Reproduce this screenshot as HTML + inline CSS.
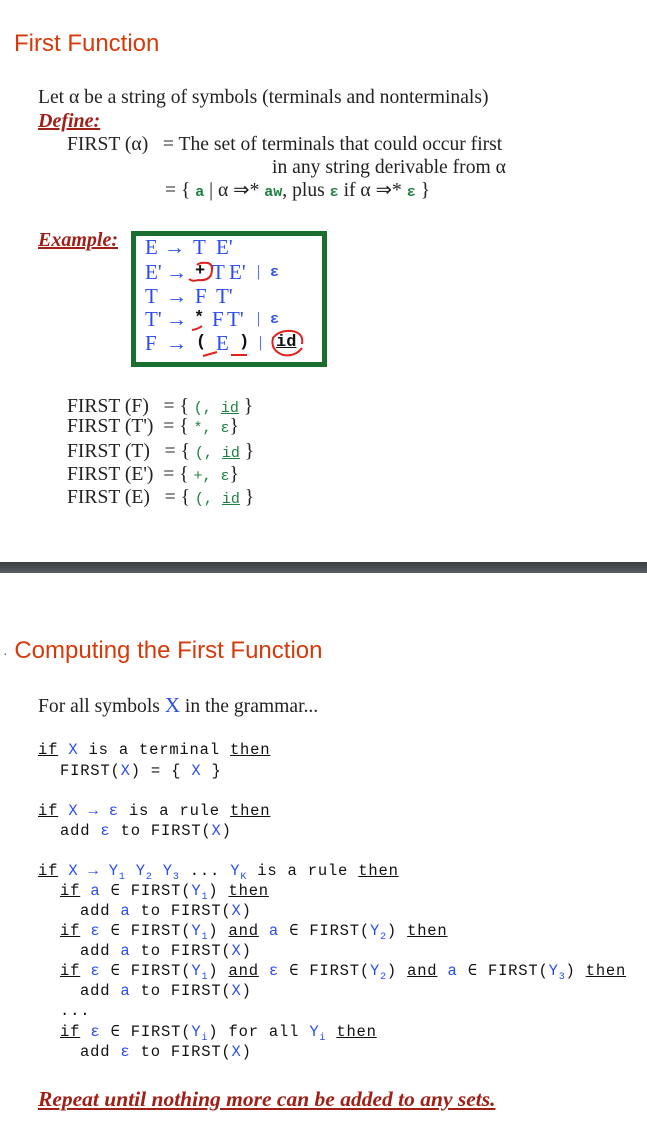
<!DOCTYPE html>
<html><head><meta charset="utf-8"><style>
body{margin:0;width:647px;height:1148px;position:relative;background:#fff;overflow:hidden}
.a{position:absolute;white-space:nowrap}
.h{font-family:"Liberation Sans",sans-serif;font-size:24px;color:#d63a0a;line-height:28px}
.s{font-family:"Liberation Serif",serif;font-size:19.6px;color:#222;line-height:20px}
.m{font-family:"Liberation Mono",monospace;font-size:15.5px;color:#111;line-height:18px;letter-spacing:0.8px}
.b{color:#2b4cf0}.g{color:#1d8040}
.u{text-decoration:underline}
sub{font-size:10px;vertical-align:-4px;line-height:0}
.ex{font-family:"Liberation Serif",serif;font-weight:bold;font-style:italic;text-decoration:underline;color:#a02018;font-size:20px;line-height:22px}
.gr{font-family:"Liberation Serif",serif;font-size:21px;color:#2b4cf0;line-height:22px}
.ar{font-weight:bold}
.gm{font-family:"Liberation Mono",monospace;font-size:15px;font-weight:bold}
.k{font-family:"Liberation Mono",monospace;font-size:17px;font-weight:bold;color:#111;line-height:22px}
</style></head><body>
<div class="a h" style="left:14px;top:30px">First Function</div>
<div class="a s" style="left:38px;top:88px">Let α be a string of symbols (terminals and nonterminals)</div>
<div class="a ex" style="left:38px;top:110px">Define:</div>
<div class="a s" style="left:67px;top:135px">FIRST (α)&nbsp;&nbsp; = The set of terminals that could occur first</div>
<div class="a s" style="left:272px;top:158px">in any string derivable from α</div>
<div class="a s" style="left:165px;top:181px">= { <span class="g gm">a</span> | α ⇒* <span class="g gm">aw</span>, plus <span class="g gm">ε</span> if α ⇒* <span class="g gm">ε</span> }</div>
<div class="a ex" style="left:38px;top:229px">Example:</div>
<div class="a" style="left:131px;top:231px;width:186px;height:126px;border:5px solid #1a6e30"></div>
<div class="a gr" style="left:145px;top:236px">E</div><div class="a gr ar" style="left:164px;top:236px">→</div><div class="a gr" style="left:193px;top:236px">T</div><div class="a gr" style="left:216px;top:236px">E'</div>
<div class="a gr" style="left:145px;top:261px">E'</div><div class="a gr ar" style="left:166px;top:261px">→</div><div class="a k" style="left:195px;top:261px">+</div><div class="a gr" style="left:212px;top:261px">T</div><div class="a gr" style="left:229px;top:261px">E'</div><div class="a gr" style="left:257px;top:261px;font-size:16px">|</div><div class="a gm" style="left:270px;top:264px;color:#2b4cf0">ε</div>
<div class="a gr" style="left:145px;top:285px">T</div><div class="a gr ar" style="left:166px;top:285px">→</div><div class="a gr" style="left:195px;top:285px">F</div><div class="a gr" style="left:216px;top:285px">T'</div>
<div class="a gr" style="left:145px;top:308px">T'</div><div class="a gr ar" style="left:166px;top:308px">→</div><div class="a k" style="left:194px;top:308px">*</div><div class="a gr" style="left:212px;top:308px">F</div><div class="a gr" style="left:227px;top:308px">T'</div><div class="a gr" style="left:257px;top:308px;font-size:16px">|</div><div class="a gm" style="left:270px;top:311px;color:#2b4cf0">ε</div>
<div class="a gr" style="left:145px;top:332px">F</div><div class="a gr ar" style="left:166px;top:332px">→</div><div class="a k" style="left:196px;top:332px">(</div><div class="a gr" style="left:216px;top:332px">E</div><div class="a k" style="left:239px;top:332px">)</div><div class="a gr" style="left:259px;top:332px;font-size:16px">|</div><div class="a k u" style="left:276px;top:332px">id</div>
<svg class="a" style="left:0;top:0" width="647" height="400">
<path d="M197 265 Q200 262 208 263 Q214 265 211 275 Q208 281 198 280 Q193 282 189 279" fill="none" stroke="#e02020" stroke-width="2"/>
<path d="M302 344 Q304 333 292 331 Q279 330 273 338 Q270 350 283 355 Q295 357 302 348" fill="none" stroke="#e02020" stroke-width="2"/>
<path d="M192 330 Q198 329 202 326 M203 356 Q210 354 217 352 M231 355 L247 355" stroke="#e02020" stroke-width="2" fill="none"/>
</svg>
<div class="a s" style="left:67px;top:397px">FIRST (F)&nbsp;&nbsp; = { <span class="g gm" style="font-weight:normal">(, <u>id</u></span> }</div>
<div class="a s" style="left:67px;top:417px">FIRST (T')&nbsp; = { <span class="g gm" style="font-weight:normal">*, ε</span>}</div>
<div class="a s" style="left:67px;top:442px">FIRST (T)&nbsp;&nbsp; = { <span class="g gm" style="font-weight:normal">(, <u>id</u></span> }</div>
<div class="a s" style="left:67px;top:465px">FIRST (E')&nbsp; = { <span class="g gm" style="font-weight:normal">+, ε</span>}</div>
<div class="a s" style="left:67px;top:488px">FIRST (E)&nbsp;&nbsp; = { <span class="g gm" style="font-weight:normal">(, <u>id</u></span> }</div>
<div class="a" style="left:0;top:562px;width:647px;height:11px;background:linear-gradient(#3a3e42,#5a5e62)"></div>
<div class="a h" style="left:3px;top:637px"><span style="font-size:14px;color:#666">·</span> Computing the First Function</div>
<div class="a s" style="left:38px;top:695px">For all symbols <span class="b" style="font-size:21px">X</span> in the grammar...</div>
<div class="a m" style="left:38px;top:741px"><u>if</u> <span class="b">X</span> is a terminal <u>then</u></div>
<div class="a m" style="left:60px;top:762px">FIRST(<span class="b">X</span>) = { <span class="b">X</span> }</div>
<div class="a m" style="left:38px;top:802px"><u>if</u> <span class="b">X</span> <span class="b">→</span> <span class="b">ε</span> is a rule <u>then</u></div>
<div class="a m" style="left:60px;top:822px">add <span class="b">ε</span> to FIRST(<span class="b">X</span>)</div>
<div class="a m" style="left:38px;top:862px"><u>if</u> <span class="b">X</span> <span class="b">→</span> <span class="b">Y<sub>1</sub> Y<sub>2</sub> Y<sub>3</sub></span> ... <span class="b">Y<sub>K</sub></span> is a rule <u>then</u></div>
<div class="a m" style="left:60px;top:882px"><u>if</u> <span class="b">a</span> ∈ FIRST(<span class="b">Y<sub>1</sub></span>) <u>then</u></div>
<div class="a m" style="left:80px;top:902px">add <span class="b">a</span> to FIRST(<span class="b">X</span>)</div>
<div class="a m" style="left:60px;top:922px"><u>if</u> <span class="b">ε</span> ∈ FIRST(<span class="b">Y<sub>1</sub></span>) <u>and</u> <span class="b">a</span> ∈ FIRST(<span class="b">Y<sub>2</sub></span>) <u>then</u></div>
<div class="a m" style="left:80px;top:942px">add <span class="b">a</span> to FIRST(<span class="b">X</span>)</div>
<div class="a m" style="left:60px;top:962px"><u>if</u> <span class="b">ε</span> ∈ FIRST(<span class="b">Y<sub>1</sub></span>) <u>and</u> <span class="b">ε</span> ∈ FIRST(<span class="b">Y<sub>2</sub></span>) <u>and</u> <span class="b">a</span> ∈ FIRST(<span class="b">Y<sub>3</sub></span>) <u>then</u></div>
<div class="a m" style="left:80px;top:982px">add <span class="b">a</span> to FIRST(<span class="b">X</span>)</div>
<div class="a m" style="left:60px;top:1002px">...</div>
<div class="a m" style="left:60px;top:1023px"><u>if</u> <span class="b">ε</span> ∈ FIRST(<span class="b">Y<sub>i</sub></span>) for all <span class="b">Y<sub>i</sub></span> <u>then</u></div>
<div class="a m" style="left:80px;top:1043px">add <span class="b">ε</span> to FIRST(<span class="b">X</span>)</div>
<div class="a ex" style="left:38px;top:1088px;font-size:21.5px">Repeat until nothing more can be added to any sets.</div>
</body></html>
